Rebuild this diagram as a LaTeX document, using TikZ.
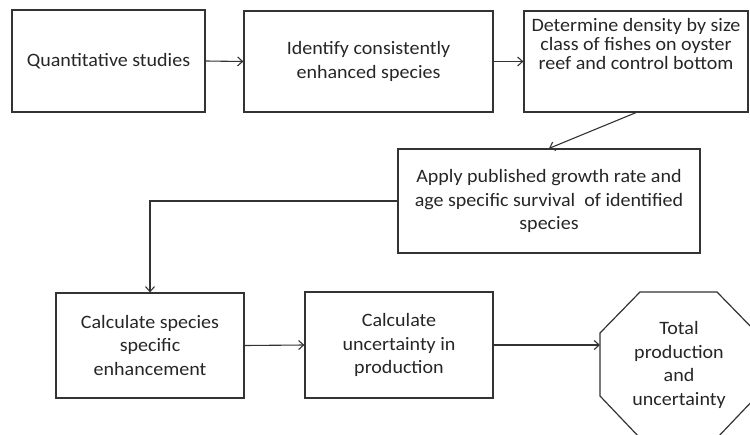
\documentclass[tikz,border=0pt]{standalone}
\usepackage{fontspec}
\setmainfont{Carlito}[FakeStretch=1.06]
\usetikzlibrary{arrows.meta}
\begin{document}
\begin{tikzpicture}[x=1pt,y=-1pt,
  every node/.style={font=\fontsize{18.9}{23.5}\selectfont, text=black!85},
  stepbox/.style={draw=black!80, line width=1.2pt, align=center, inner sep=0pt},
  octline/.style={draw=black!80, line width=1.2pt},
  conn/.style={draw=black!80, line width=1.1pt, -{Straight Barb[length=5pt,width=9pt]}}]
\path[use as bounding box] (0,0) rectangle (750,434);
\clip (0,0) rectangle (750,434);
\node[stepbox, minimum width=193pt, minimum height=102pt] (b1) at (108.5,61) {Quantitative studies};
\node[stepbox, minimum width=249pt, minimum height=101pt] (b2) at (368.5,61.5) {Identify consistently\\enhanced species};
\node[stepbox, minimum width=224pt, minimum height=101pt] (b3) at (636,61.5) {};
\node[align=center, font=\fontsize{18.9}{19.4}\selectfont] (b3text) at (636,44) {Determine density by size\\class of fishes on oyster\\reef and control bottom};
\node[stepbox, minimum width=302pt, minimum height=104pt] (b4) at (549,201) {Apply published growth rate and\\age specific survival\ \ of identified\\species};
\node[stepbox, minimum width=188pt, minimum height=105pt] (b5) at (150,345.5) {Calculate species\\specific\\enhancement};
\node[stepbox, minimum width=188pt, minimum height=106pt] (b6) at (399,345) {Calculate\\uncertainty in\\production};
% octagon
\coordinate (o1) at (640,292);
\coordinate (o2) at (717,292);
\coordinate (o3) at (757,333);
\coordinate (o4) at (757,396);
\coordinate (o5) at (717,438);
\coordinate (o6) at (640,438);
\coordinate (o7) at (600,396);
\coordinate (o8) at (600,333);
\draw[octline] (o1) -- (o2) -- (o3) -- (o4) -- (o5) -- (o6) -- (o7) -- (o8) -- cycle;
\node[align=center] (octtext) at (679,365) {Total\\production\\and\\uncertainty};
\draw[conn] (b1.east) -- (b2.west);
\draw[conn] (b2.east) -- (b3.west);
\draw[conn] (b3.south) -- (b4.north);
\draw[conn] (b4.west) -| (b5.north);
\draw[conn] (b5.east) -- (b6.west);
\draw[conn] (b6.east) -- (b6.east -| o8);
\end{tikzpicture}
\end{document}
